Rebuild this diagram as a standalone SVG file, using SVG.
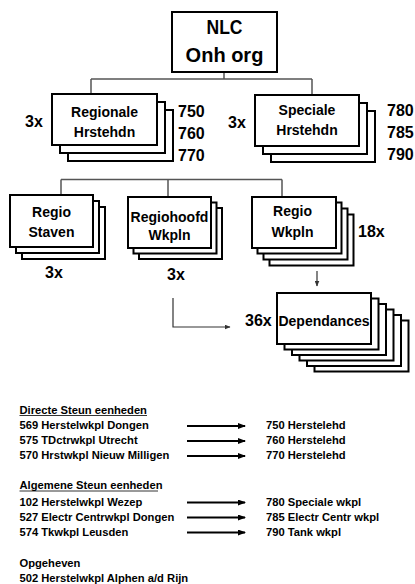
<svg xmlns="http://www.w3.org/2000/svg" width="415" height="584" viewBox="0 0 415 584">
<style>
text{font-family:"Liberation Sans",Arial,sans-serif;font-weight:bold;fill:#000}
.b{fill:#fff;stroke:#000;stroke-width:2}
.t{font-size:14px;text-anchor:middle}
.n{font-size:16px}
.s{font-size:11.2px}
.c{fill:none;stroke:#555;stroke-width:1.5}
.a{fill:none;stroke:#000;stroke-width:2}
</style>
<defs>
<marker id="ah" markerWidth="8" markerHeight="6" refX="7" refY="3" orient="auto" markerUnits="userSpaceOnUse"><path d="M0,0 L8,3 L0,6 z" fill="#000"/></marker>
<marker id="sh" markerWidth="6" markerHeight="5" refX="5.5" refY="2.5" orient="auto" markerUnits="userSpaceOnUse"><path d="M0,0 L6,2.5 L0,5 z" fill="#333"/></marker>
</defs>
<g id="connectors">
<path class="c" d="M224,72 V79 M91,79 H312 M91,79 V94 M312,79 V95"/>
<path class="c" d="M61,179.5 H282 M61,179.5 V195 M168,179.5 V197 M282,179.5 V197"/>
<path fill="none" stroke="#333" stroke-width="1.2" d="M317,271 V286" marker-end="url(#sh)"/>
<path fill="none" stroke="#333" stroke-width="1.2" d="M173,298 V327 H230" marker-end="url(#sh)"/>
</g>
<g id="nlc">
<rect class="b" x="172" y="12" width="105" height="60"/>
<text x="224.5" y="33.5" font-size="20" text-anchor="middle" textLength="36" lengthAdjust="spacingAndGlyphs">NLC</text>
<text x="224.5" y="61.5" font-size="20" text-anchor="middle">Onh org</text>
</g>
<g id="regionale">
<rect class="b" x="68" y="110" width="105" height="51"/>
<rect class="b" x="60" y="102" width="105" height="51"/>
<rect class="b" x="52" y="94" width="105" height="51"/>
<text class="t" x="104.5" y="117" font-size="13">Regionale</text>
<text class="t" x="104.5" y="137">Hrstehdn</text>
<text class="n" x="25" y="127" font-size="15">3x</text>
<text class="n" x="178" y="117">750</text>
<text class="n" x="178" y="138.5">760</text>
<text class="n" x="178" y="160.5">770</text>
</g>
<g id="speciale">
<rect class="b" x="271" y="111" width="104" height="51"/>
<rect class="b" x="263" y="103" width="104" height="51"/>
<rect class="b" x="255" y="95" width="104" height="51"/>
<text class="t" x="307" y="115">Speciale</text>
<text class="t" x="307" y="134.5">Hrstehdn</text>
<text class="n" x="228" y="128" font-size="15">3x</text>
<text class="n" x="387" y="116">780</text>
<text class="n" x="387" y="137.5">785</text>
<text class="n" x="387" y="159.5">790</text>
</g>
<g id="regio-staven">
<rect class="b" x="22" y="207" width="83" height="52"/>
<rect class="b" x="16" y="201" width="83" height="52"/>
<rect class="b" x="10" y="195" width="83" height="52"/>
<text class="t" x="51.5" y="217">Regio</text>
<text class="t" x="51.5" y="237">Staven</text>
<text class="n" x="45" y="278" font-size="15">3x</text>
</g>
<g id="regiohoofd">
<rect class="b" x="139" y="208" width="83" height="51"/>
<rect class="b" x="133.5" y="202.5" width="83" height="51"/>
<rect class="b" x="128" y="197" width="83" height="51"/>
<text class="t" x="169.5" y="221.5">Regiohoofd</text>
<text class="t" x="169.5" y="240">Wkpln</text>
<text class="n" x="167" y="280" font-size="15">3x</text>
</g>
<g id="regio-wkpln">
<rect class="b" x="269.5" y="214.5" width="84" height="51"/>
<rect class="b" x="263.5" y="208.5" width="84" height="51"/>
<rect class="b" x="257.5" y="202.5" width="84" height="51"/>
<rect class="b" x="252" y="197" width="84" height="51"/>
<text class="t" x="292.5" y="216">Regio</text>
<text class="t" x="292.5" y="236.5">Wkpln</text>
<text class="n" x="358" y="237">18x</text>
</g>
<g id="dependances">
<rect class="b" x="314.5" y="320.5" width="94" height="51"/>
<rect class="b" x="307" y="315" width="94" height="51"/>
<rect class="b" x="299.5" y="309.5" width="94" height="51"/>
<rect class="b" x="292" y="304" width="94" height="51"/>
<rect class="b" x="284.5" y="298.5" width="94" height="51"/>
<rect class="b" x="277" y="293" width="94" height="51"/>
<text class="t" x="324" y="326">Dependances</text>
<text class="n" x="245" y="326">36x</text>
</g>
<g id="legend">
<text class="s" x="19.5" y="413.5">Directe Steun eenheden</text>
<line x1="19.5" y1="415.5" x2="147" y2="415.5" stroke="#000" stroke-width="0.8"/>
<text class="s" x="19.5" y="429">569 Herstelwkpl Dongen</text>
<text class="s" x="19.5" y="444">575 TDctrwkpl  Utrecht</text>
<text class="s" x="19.5" y="459">570 Hrstwkpl Nieuw Milligen</text>
<text class="s" x="266" y="429">750 Herstelehd</text>
<text class="s" x="266" y="444">760 Herstelehd</text>
<text class="s" x="266" y="459">770 Herstelehd</text>
<text class="s" x="19.5" y="489">Algemene Steun eenheden</text>
<line x1="19.5" y1="491" x2="158" y2="491" stroke="#000" stroke-width="0.8"/>
<text class="s" x="19.5" y="505.5">102 Herstelwkpl Wezep</text>
<text class="s" x="19.5" y="520.5">527 Electr Centrwkpl Dongen</text>
<text class="s" x="19.5" y="535.5">574 Tkwkpl Leusden</text>
<text class="s" x="266" y="505.5">780 Speciale wkpl</text>
<text class="s" x="266" y="520.5">785 Electr Centr wkpl</text>
<text class="s" x="266" y="535.5">790 Tank wkpl</text>
<text class="s" x="19.5" y="566.5">Opgeheven</text>
<text class="s" x="19.5" y="581.5">502 Herstelwkpl Alphen a/d Rijn</text>
</g>
<g id="legend-arrows">
<path class="a" d="M187,426 H245" marker-end="url(#ah)"/>
<path class="a" d="M187,441 H245" marker-end="url(#ah)"/>
<path class="a" d="M187,456 H245" marker-end="url(#ah)"/>
<path class="a" d="M187,502.5 H245" marker-end="url(#ah)"/>
<path class="a" d="M187,517.5 H245" marker-end="url(#ah)"/>
<path class="a" d="M187,532.5 H245" marker-end="url(#ah)"/>
</g>
</svg>
